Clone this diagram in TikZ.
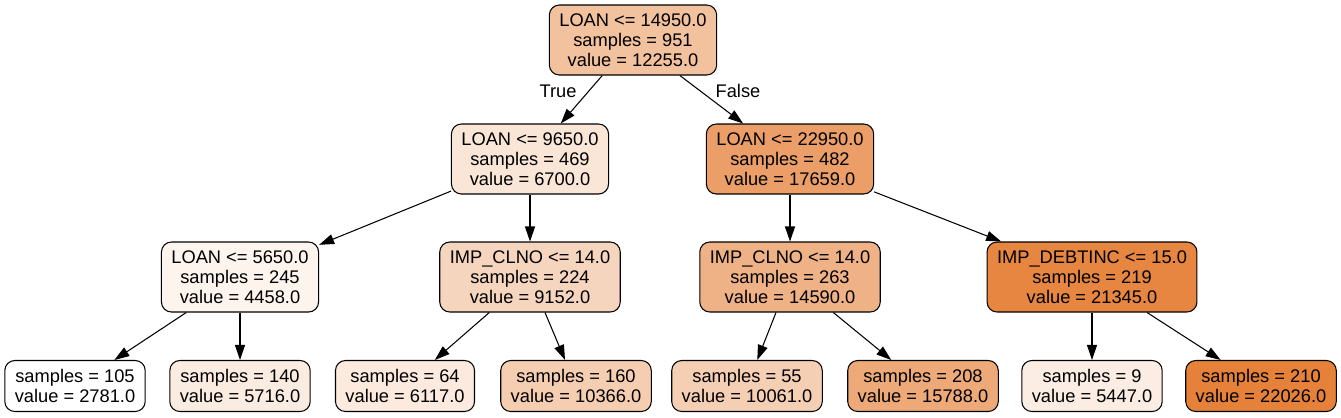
\documentclass[tikz,border=0pt]{standalone}
\usepackage{fontspec}
\setmainfont{Liberation Sans}
\usetikzlibrary{arrows.meta}
\definecolor{treeorange}{RGB}{229,129,57}
\begin{document}
\begin{tikzpicture}[x=0.02cm,y=-0.02cm,
  split/.style={draw,rounded corners=0.2cm,align=center,inner xsep=0.2cm,
    minimum height=1.4cm,line width=0.6pt,font=\fontsize{10.4}{11.4}\selectfont},
  leaf/.style={split,minimum height=1.02cm},
  edge/.style={-{Triangle[length=0.3cm,width=0.2cm]},line width=0.6pt}]
\useasboundingbox (0,0) rectangle (1341,417);
% splits
\node[split,fill=treeorange!49!white] (n0) at (633,40) {LOAN <= 14950.0\\samples = 951\\value = 12255.0};
\node[split,fill=treeorange!20!white] (n1) at (530,159) {LOAN <= 9650.0\\samples = 469\\value = 6700.0};
\node[split,fill=treeorange!77!white] (n8) at (790,159) {LOAN <= 22950.0\\samples = 482\\value = 17659.0};
\node[split,fill=treeorange!9!white] (n2) at (240,277) {LOAN <= 5650.0\\samples = 245\\value = 4458.0};
\node[split,fill=treeorange!33!white] (n5) at (530,277) {IMP\_CLNO <= 14.0\\samples = 224\\value = 9152.0};
\node[split,fill=treeorange!61!white] (n9) at (790,277) {IMP\_CLNO <= 14.0\\samples = 263\\value = 14590.0};
\node[split,fill=treeorange!96!white] (n12) at (1092,277) {IMP\_DEBTINC <= 15.0\\samples = 219\\value = 21345.0};
% leaves
\node[leaf,fill=white] (n3) at (75,386) {samples = 105\\value = 2781.0};
\node[leaf,fill=treeorange!15!white] (n4) at (240,386) {samples = 140\\value = 5716.0};
\node[leaf,fill=treeorange!17!white] (n6) at (405,386) {samples = 64\\value = 6117.0};
\node[leaf,fill=treeorange!39!white] (n7) at (576,386) {samples = 160\\value = 10366.0};
\node[leaf,fill=treeorange!38!white] (n10) at (747,386) {samples = 55\\value = 10061.0};
\node[leaf,fill=treeorange!68!white] (n11) at (923,386) {samples = 208\\value = 15788.0};
\node[leaf,fill=treeorange!14!white] (n13) at (1092,386) {samples = 9\\value = 5447.0};
\node[leaf,fill=treeorange] (n14) at (1261,386) {samples = 210\\value = 22026.0};
% edges
\draw[edge] (n0) -- (n1);
\draw[edge] (n0) -- (n8);
\draw[edge] (n1) -- (n2);
\draw[edge] (n1) -- (n5);
\draw[edge] (n8) -- (n9);
\draw[edge] (n8) -- (n12);
\draw[edge] (n2) -- (n3);
\draw[edge] (n2) -- (n4);
\draw[edge] (n5) -- (n6);
\draw[edge] (n5) -- (n7);
\draw[edge] (n9) -- (n10);
\draw[edge] (n9) -- (n11);
\draw[edge] (n12) -- (n13);
\draw[edge] (n12) -- (n14);
\node[font=\fontsize{10.4}{11.4}\selectfont] (ltrue) at (558,91) {True};
\node[font=\fontsize{10.4}{11.4}\selectfont] (lfalse) at (738,91) {False};
\end{tikzpicture}
\end{document}
